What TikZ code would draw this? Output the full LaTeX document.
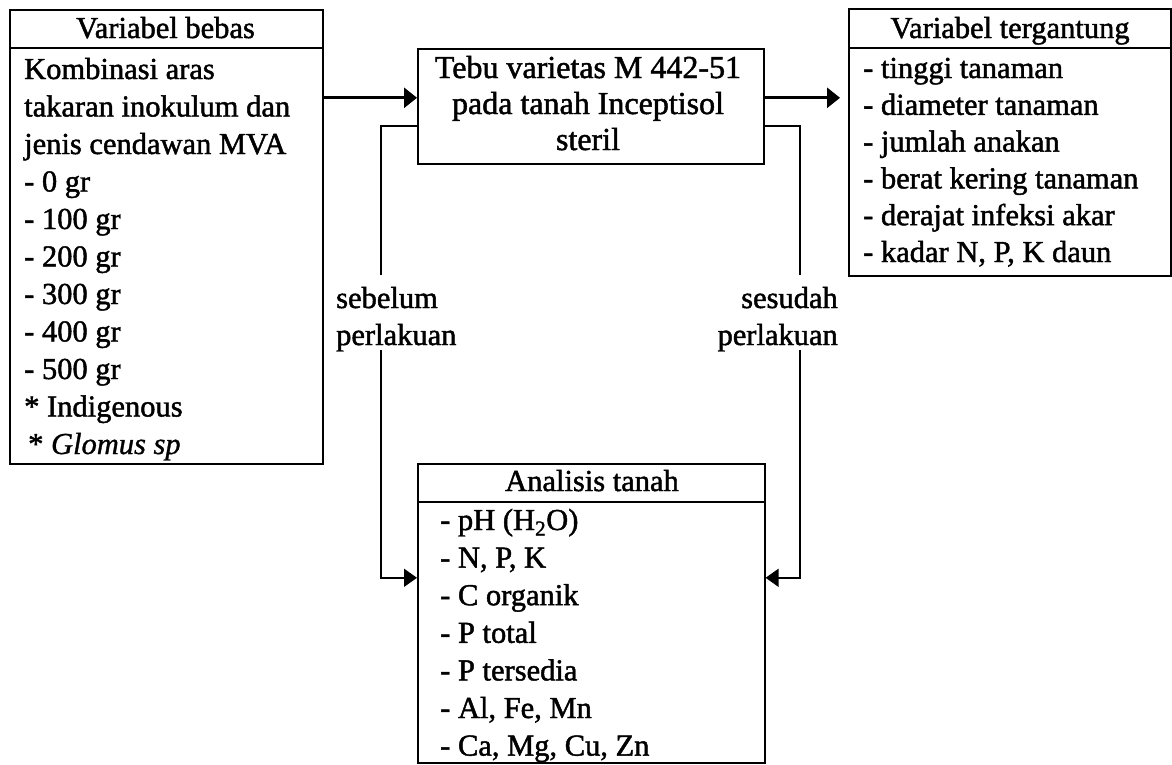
\documentclass[tikz,border=0pt]{standalone}
\usepackage{fontspec}
\setmainfont{Liberation Serif}[UprightFeatures={FakeBold=1.5},ItalicFeatures={FakeBold=1}]
\usetikzlibrary{arrows.meta}
\begin{document}
\begin{tikzpicture}[x=1pt,y=-1pt,
  frame/.style={draw, line width=1.6pt, inner sep=0pt, anchor=north west},
  txt/.style={inner sep=0pt, font=\fontsize{30.5}{36}\selectfont},
  bigtxt/.style={inner sep=0pt, font=\fontsize{32}{36}\selectfont},
  hd/.style={txt, anchor=base},
  ln/.style={txt, anchor=base west},
  lnr/.style={txt, anchor=base east},
  wire/.style={line width=1.6pt},
  arr/.style={line width=1.6pt, -{Triangle[length=13pt,width=18pt]}},
  mainarr/.style={line width=2.8pt, -{Triangle[length=13pt,width=20pt]}},
]
\useasboundingbox (0,0) rectangle (1172,764);
\fill[white] (0,0) rectangle (1172,764);

% ---- boxes ----
\node[frame, minimum width=313pt, minimum height=454pt] (bebas) at (9,9) {};
\node[frame, minimum width=346pt, minimum height=115pt] (tebu) at (417,48) {};
\node[frame, minimum width=322pt, minimum height=267pt] (terg) at (848,8) {};
\node[frame, minimum width=347pt, minimum height=299pt] (anal) at (417,463) {};

% header dividers
\draw[wire] ([yshift=-39pt]bebas.north west) -- ([yshift=-39pt]bebas.north east);
\draw[wire] ([yshift=-40pt]terg.north west) -- ([yshift=-40pt]terg.north east);
\draw[wire] ([yshift=-39pt]anal.north west) -- ([yshift=-39pt]anal.north east);

% ---- independent variables ----
\node[hd] (bebasH) at (165.5,38) {Variabel bebas};
\foreach \t [count=\i from 0] in {{Kombinasi aras},{takaran inokulum dan},{jenis cendawan MVA},{- 0 gr},{- 100 gr},{- 200 gr},{- 300 gr},{- 400 gr},{- 500 gr},{* Indigenous}}
  \node[ln] (bebasL\i) at (24,{79+37.5*\i}) {\t};
\node[ln] (bebasL10) at (28,{79+37.5*10}) {* \textit{Glomus sp}};

% ---- treatment ----
\foreach \t [count=\i from 0] in {{Tebu varietas M 442-51},{pada tanah Inceptisol},{steril}}
  \node[bigtxt, anchor=base] (tebuL\i) at (588,{78+36*\i}) {\t};

% ---- dependent variables ----
\node[hd] (tergH) at (1010,38) {Variabel tergantung};
\foreach \t [count=\i from 0] in {{- tinggi tanaman},{- diameter tanaman},{- jumlah anakan},{- berat kering tanaman},{- derajat infeksi akar},{- kadar N, P, K daun}}
  \node[ln] (tergL\i) at (863,{78+36.8*\i}) {\t};

% ---- soil analysis ----
\node[hd] (analH) at (592,491) {Analisis tanah};
\foreach \t [count=\i from 0] in {{- pH (H\textsubscript{2}O)},{- N, P, K},{- C organik},{- P total},{- P tersedia},{- Al, Fe, Mn},{- Ca, Mg, Cu, Zn}}
  \node[ln] (analL\i) at (440,{530+37.6*\i}) {\t};

% ---- labels ----
\node[ln] (seb1) at (336,308) {sebelum};
\node[ln] (seb2) at (336,345) {perlakuan};
\node[lnr] (ses1) at (838,308) {sesudah};
\node[lnr] (ses2) at (838,345) {perlakuan};

% ---- connectors ----
\coordinate (tin) at ([yshift=8.5pt]tebu.west);
\coordinate (tout) at ([yshift=8.5pt]tebu.east);
\draw[mainarr] (bebas.east |- tin) -- (tin);
\draw[mainarr, shorten >=8pt] (tout) -- (terg.west |- tout);

\coordinate (tw) at ([yshift=-19.5pt]tebu.west);
\coordinate (te) at ([yshift=-19.5pt]tebu.east);
\coordinate (aw) at ([yshift=35.5pt]anal.west);
\coordinate (ae) at ([yshift=35.5pt]anal.east);
\coordinate (sbA) at (381,275);
\coordinate (sbB) at (381,350);
\coordinate (saA) at (800,275);
\coordinate (saB) at (800,350);
\draw[wire] (tw) -| (sbA);
\draw[arr] (sbB) |- (aw);
\draw[wire] (te) -| (saA);
\draw[arr] (saB) |- (ae);
\end{tikzpicture}
\end{document}
